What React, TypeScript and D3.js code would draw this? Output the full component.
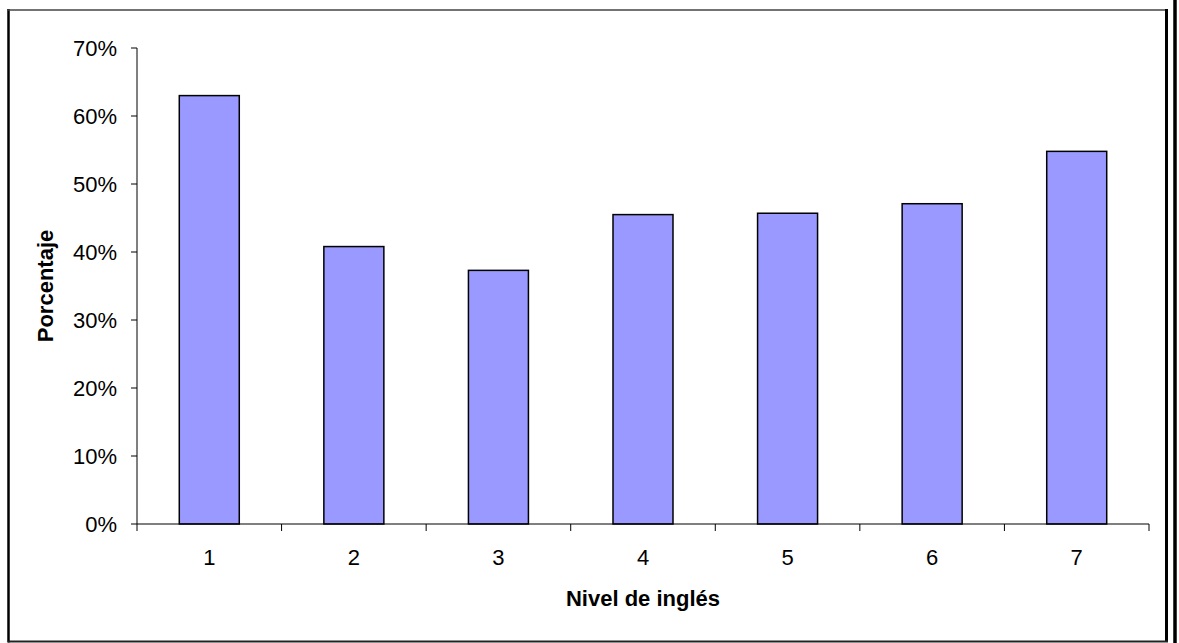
import React from "react";
import * as d3 from "d3";

// English level categories and share of respondents per level
const levels: string[] = ["1", "2", "3", "4", "5", "6", "7"];
const percentages: number[] = [0.63, 0.408, 0.373, 0.455, 0.457, 0.471, 0.548];
const yTickValues: number[] = [0, 0.1, 0.2, 0.3, 0.4, 0.5, 0.6, 0.7];

const W = 1179;
const H = 643;
const plot = { left: 137, right: 1149, top: 48, bottom: 524 };
const FONT = "'Liberation Sans', Arial, sans-serif";

export default function App() {
  const x = d3.scaleBand<string>().domain(levels).range([plot.left, plot.right]).padding(0);
  const y = d3.scaleLinear().domain([0, 0.7]).range([plot.bottom, plot.top]);
  const barW = x.bandwidth() * 0.415;
  const fmt = d3.format(".0%");
  const boundaries = [...levels.map((l) => x(l) as number), plot.right];

  return (
    <svg
      width={W}
      height={H}
      style={{ position: "absolute", left: 0, top: 0, background: "#fff" }}
      fontFamily={FONT}
    >
      <rect x={0} y={0} width={W} height={H} fill="#fff" />
      {/* outer chart frame */}
      <line x1={8.5} y1={9} x2={8.5} y2={642.5} stroke="#000" strokeWidth={2.5} />
      <line x1={8} y1={10} x2={1168} y2={10} stroke="#444" strokeWidth={1.5} />
      <line x1={1166.5} y1={9} x2={1166.5} y2={642} stroke="#000" strokeWidth={3} />
      <line x1={8} y1={641.5} x2={1168} y2={641.5} stroke="#222" strokeWidth={2} />
      {/* page edge line on the right */}
      <line x1={1175} y1={0} x2={1175} y2={H} stroke="#000" strokeWidth={3.5} />

      {/* bars */}
      {levels.map((l, i) => {
        const cx = (x(l) as number) + x.bandwidth() / 2;
        return (
          <rect
            key={l}
            x={cx - barW / 2}
            y={y(percentages[i])}
            width={barW}
            height={y(0) - y(percentages[i])}
            fill="#9999FF"
            stroke="#000"
            strokeWidth={1.5}
          />
        );
      })}

      {/* y axis */}
      <line x1={plot.left} y1={plot.top} x2={plot.left} y2={plot.bottom} stroke="#000" strokeWidth={1} />
      {yTickValues.map((t) => (
        <g key={t}>
          <line x1={plot.left - 6} y1={y(t)} x2={plot.left} y2={y(t)} stroke="#000" strokeWidth={1} />
          <text
            x={117}
            y={y(t)}
            dy="0.35em"
            textAnchor="end"
            fontSize={22}
            fill="#000"
          >
            {fmt(t)}
          </text>
        </g>
      ))}

      {/* x axis */}
      <line x1={plot.left} y1={plot.bottom} x2={plot.right} y2={plot.bottom} stroke="#000" strokeWidth={1} />
      {boundaries.map((b, i) => (
        <line key={i} x1={b} y1={plot.bottom} x2={b} y2={plot.bottom + 7} stroke="#000" strokeWidth={1} />
      ))}
      {levels.map((l) => (
        <text
          key={l}
          x={(x(l) as number) + x.bandwidth() / 2}
          y={565}
          textAnchor="middle"
          fontSize={22}
          fill="#000"
        >
          {l}
        </text>
      ))}

      {/* axis titles */}
      <text
        x={(plot.left + plot.right) / 2}
        y={606}
        textAnchor="middle"
        fontSize={22}
        fontWeight="bold"
        fill="#000"
      >
        Nivel de inglés
      </text>
      <text
        transform={`translate(53, ${(plot.top + plot.bottom) / 2}) rotate(-90)`}
        textAnchor="middle"
        fontSize={22}
        fontWeight="bold"
        fill="#000"
      >
        Porcentaje
      </text>
    </svg>
  );
}
